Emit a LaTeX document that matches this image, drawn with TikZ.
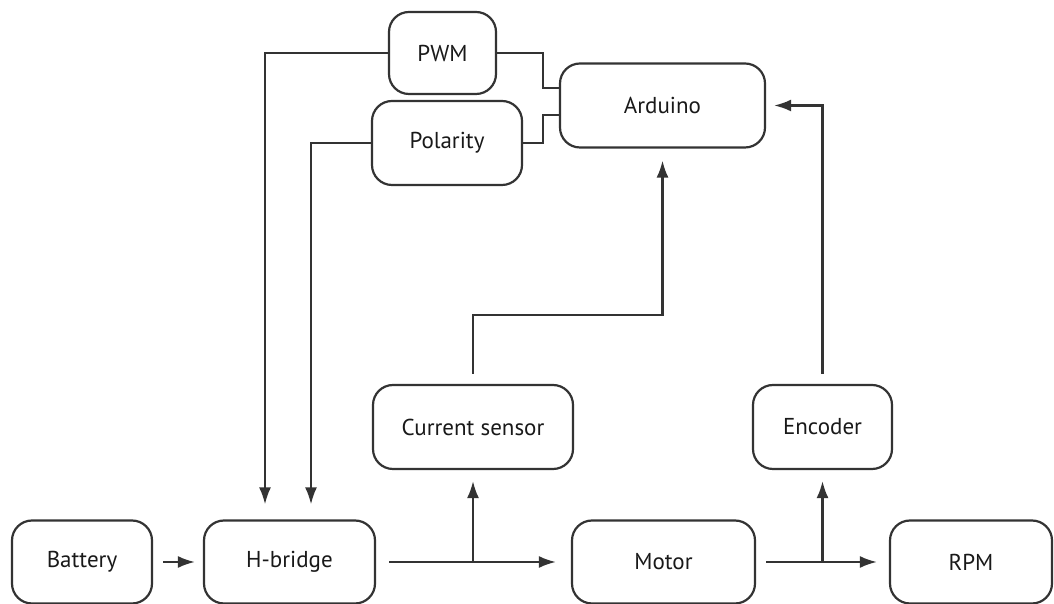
\documentclass[tikz,border=0pt]{standalone}
\usepackage{fontspec}
\setmainfont{PT Sans}
\usetikzlibrary{positioning, arrows.meta}

\begin{document}
\begin{tikzpicture}
	[x=0.5pt, y=0.5pt, line width=1.1pt, color=black!80,
	 block/.style={draw, rounded corners=10pt, minimum height=42pt, inner sep=0pt, text=black!90, font=\fontsize{11.5}{13}\selectfont},
	 sig/.style={-{Latex[length=8.5pt,width=6pt]}}]
   \useasboundingbox (0,0) rectangle (1054,604);
   \node[block, minimum width=70pt, minimum height=41.5pt] (battery) at (82,42) {Battery};
   \node[block, minimum width=85.5pt, minimum height=41.5pt] (hbridge) at (289.5,42) {H-bridge};
   \node[block, minimum width=91.5pt, minimum height=41.5pt] (motor) at (663.5,42) {Motor};
   \node[block, minimum width=81pt, minimum height=41.5pt] (rpm) at (971,42) {RPM};
   \node[block, minimum width=100pt] (curr) at (473,177) {Current sensor};
   \node[block, minimum width=69.5pt] (enc) at (822.5,177) {Encoder};
   \node[block, minimum width=102.5pt] (arduino) at (662.5,498.5) {Arduino};
   \node[block, minimum width=53.5pt, minimum height=41pt] (pwm) at (442.5,551) {PWM};
   \node[block, minimum width=75pt] (polarity) at (447,461) {Polarity};

   \coordinate (pj) at (543,516);
   \coordinate (qj) at (543,489);
   \coordinate (ca) at (662.5,289);
   \coordinate (hm) at (curr.south |- hbridge.east);
   \coordinate (me) at (enc.south |- motor.east);

   \draw[sig, shorten <=5pt, shorten >=4pt] (battery) -- (hbridge);
   \draw[sig, shorten <=6.5pt, shorten >=7.5pt] (hbridge) -- (motor);
   \draw[sig, shorten >=5.5pt] (hm) -- (curr.south);
   \draw[sig, shorten <=5pt, shorten >=6pt] (motor) -- (rpm);
   \draw[sig, shorten >=5.5pt] (me) -- (enc.south);
   \draw[sig, shorten <=5pt, shorten >=6pt] (curr.north) |- (ca) -- (arduino.south);
   \draw[sig, shorten <=5pt, shorten >=4pt] (enc.north) |- (arduino.east);
   \draw[sig, shorten >=7.5pt] (pwm.west) -| ([xshift=-12.25pt]hbridge.north);
   \draw[sig, shorten >=7.5pt] (polarity.west) -| ([xshift=10.75pt]hbridge.north);
   \draw (pwm.east) -| (pj) -- (pj -| arduino.west);
   \draw (polarity.east) -| (qj) -- (qj -| arduino.west);
\end{tikzpicture}
\end{document}
